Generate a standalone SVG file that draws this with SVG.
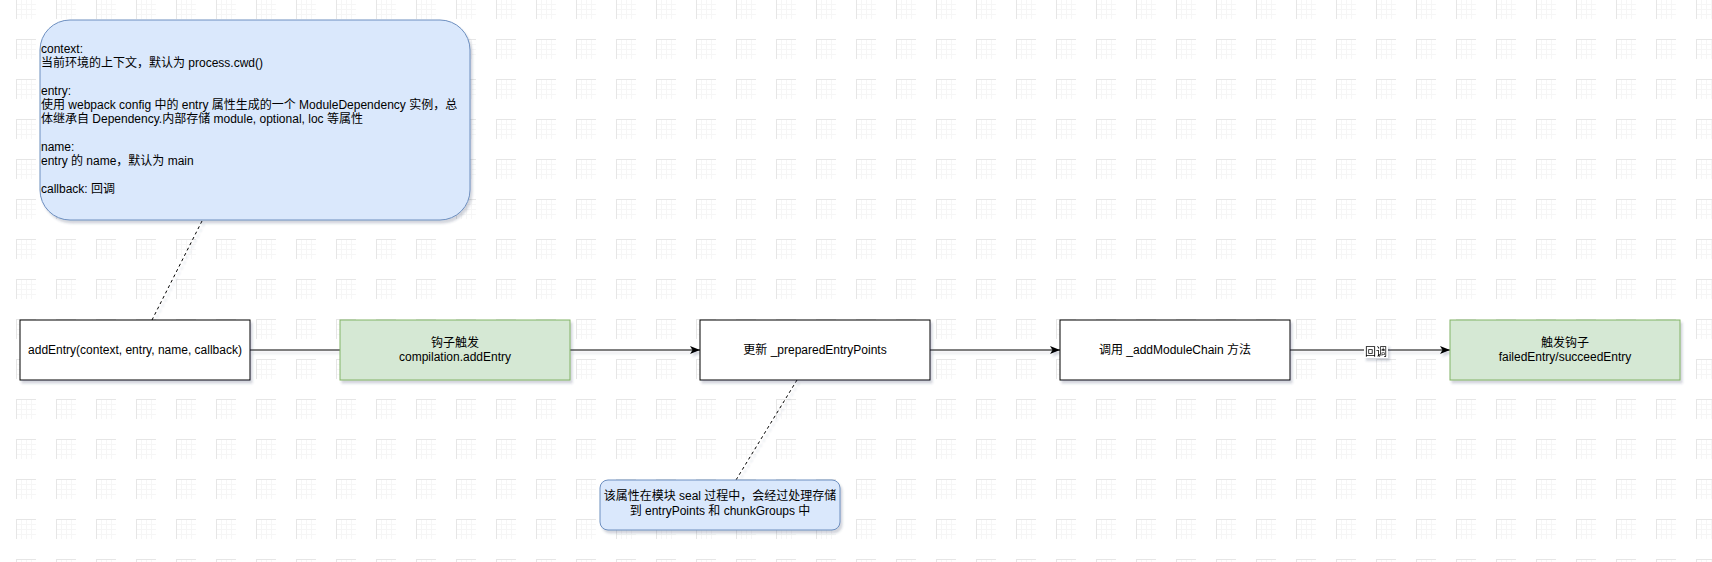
<svg xmlns="http://www.w3.org/2000/svg" width="1712" height="562" viewBox="0 0 1712 562">
<style>
text{font-family:"Liberation Sans","Noto Sans CJK SC",sans-serif;font-size:12px;fill:#000}
.c{text-anchor:middle}
.box{fill:#fff;stroke:#000;stroke-width:1}
.green{fill:#d5e8d4;stroke:#82b366;stroke-width:1}
.blue{fill:#dae8fc;stroke:#6c8ebf;stroke-width:1}
.edge{fill:none;stroke:#000;stroke-width:1}
.dash{fill:none;stroke:#000;stroke-width:1;stroke-dasharray:3 3}
</style>
<defs>
<pattern id="grid" x="16" y="-1" width="40" height="40" patternUnits="userSpaceOnUse">
<path d="M0 5.5H20M0 10.5H20M0 15.5H20M5.5 0V20M10.5 0V20M15.5 0V20" stroke="#f6f6f6" stroke-width="1" fill="none"/>
<path d="M0 0.5H20M0.5 0V20" stroke="#e6e6e6" stroke-width="1" fill="none"/>
</pattern>
<filter id="sh" x="-10%" y="-10%" width="130%" height="140%">
<feDropShadow dx="2" dy="3" stdDeviation="1.2" flood-color="#3a4060" flood-opacity="0.22"/>
</filter>
<filter id="shl" filterUnits="userSpaceOnUse" x="0" y="0" width="1712" height="562">
<feDropShadow dx="2" dy="3" stdDeviation="1.2" flood-color="#3a4060" flood-opacity="0.22"/>
</filter>
<marker id="arr" viewBox="0 0 10 10" refX="10" refY="5" markerWidth="10" markerHeight="10" markerUnits="userSpaceOnUse" orient="auto">
<path d="M0 1L10 5L0 9L2.5 5Z" fill="#000"/>
</marker>
</defs>
<rect width="1712" height="562" fill="#fff"/>
<rect width="1712" height="562" fill="url(#grid)"/>
<g id="connectors" filter="url(#shl)">
<path class="dash" d="M202 221L152 320"/>
<path class="dash" d="M797 380L736 480"/>
<path class="edge" d="M250 350H340"/>
<path class="edge" d="M570 350H700" marker-end="url(#arr)"/>
<path class="edge" d="M930 350H1060" marker-end="url(#arr)"/>
<path class="edge" d="M1290 350H1450" marker-end="url(#arr)"/>
<rect x="1364" y="344" width="24" height="14" fill="#fff"/>
<text x="1376" y="355.5" class="c" style="font-size:11px">回调</text>
</g>
<g id="note-params">
<rect class="blue" x="40" y="20" width="430" height="200" rx="30" ry="30" filter="url(#sh)"/>
<text x="41" y="53">context:</text>
<text x="41" y="67">当前环境的上下文，默认为 process.cwd()</text>
<text x="41" y="95">entry:</text>
<text x="41" y="109">使用 webpack config 中的 entry 属性生成的一个 ModuleDependency 实例，总</text>
<text x="41" y="123">体继承自 Dependency.内部存储 module, optional, loc 等属性</text>
<text x="41" y="151">name:</text>
<text x="41" y="165">entry 的 name，默认为 main</text>
<text x="41" y="193">callback: 回调</text>
</g>
<g id="node-addEntry">
<rect class="box" x="20" y="320" width="230" height="60" filter="url(#sh)"/>
<text x="135" y="354" class="c">addEntry(context, entry, name, callback)</text>
</g>
<g id="node-hook">
<rect class="green" x="340" y="320" width="230" height="60" filter="url(#sh)"/>
<text x="455" y="347" class="c">钩子触发</text>
<text x="455" y="361" class="c">compilation.addEntry</text>
</g>
<g id="node-prepared">
<rect class="box" x="700" y="320" width="230" height="60" filter="url(#sh)"/>
<text x="815" y="354" class="c">更新 _preparedEntryPoints</text>
</g>
<g id="node-chain">
<rect class="box" x="1060" y="320" width="230" height="60" filter="url(#sh)"/>
<text x="1175" y="354" class="c">调用 _addModuleChain 方法</text>
</g>
<g id="node-trigger">
<rect class="green" x="1450" y="320" width="230" height="60" filter="url(#sh)"/>
<text x="1565" y="347" class="c">触发钩子</text>
<text x="1565" y="361" class="c">failedEntry/succeedEntry</text>
</g>
<g id="note-seal">
<rect class="blue" x="600" y="480" width="240" height="50" rx="8" ry="8" filter="url(#sh)"/>
<text x="720" y="499.5" class="c">该属性在模块 seal 过程中，会经过处理存储</text>
<text x="720" y="515" class="c">到 entryPoints 和 chunkGroups 中</text>
</g>
</svg>
